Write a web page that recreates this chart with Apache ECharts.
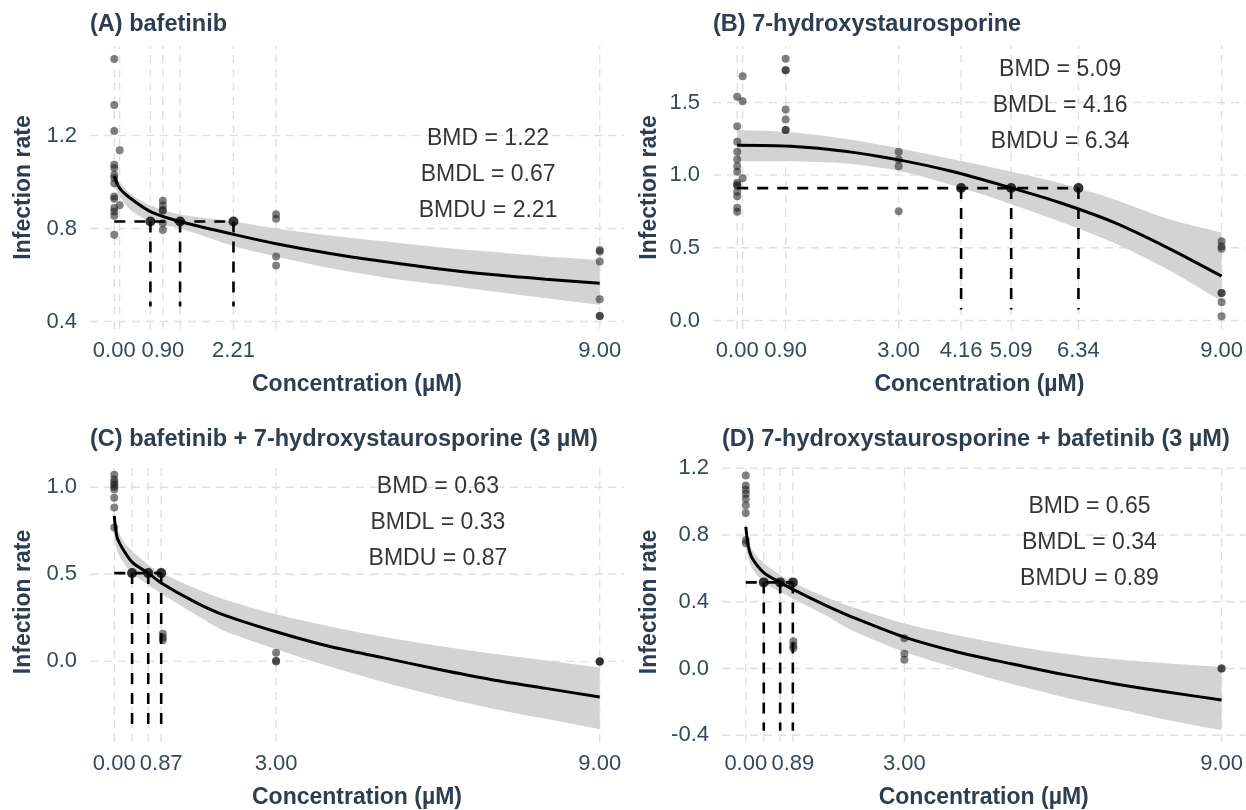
<!DOCTYPE html>
<html><head><meta charset="utf-8">
<script src="https://cdn.jsdelivr.net/npm/echarts@6/dist/echarts.min.js"></script>
<style>html,body{margin:0;padding:0;background:#fff}#c{width:1246px;height:810px}</style>
</head><body><div id="c"></div>
<script>
// ---------- DATA ----------
const panelTitles = ['(A) bafetinib', '(B) 7-hydroxystaurosporine',
  '(C) bafetinib + 7-hydroxystaurosporine (3 µM)', '(D) 7-hydroxystaurosporine + bafetinib (3 µM)'];

// Panel A
const aPtX = [0,0,0,0,0,0,0,0,0,0,0,0,0,0, 0.1,0.1, 0.9,0.9,0.9,0.9,0.9,0.9, 3,3,3,3, 9,9,9,9,9,9];
const aPtY = [1.529,1.331,1.220,1.074,1.060,1.031,1.017,0.995,0.938,0.928,0.888,0.873,0.855,0.773,
  1.137,0.900, 0.919,0.899,0.880,0.877,0.823,0.794, 0.862,0.842,0.680,0.641, 0.708,0.701,0.658,0.496,0.424,0.424];
const aCurveX = [0,0.1,0.3,0.67,1.22,2.21,3,4,5,6,7,8,9];
const aCurveY = [1.025,0.974,0.930,0.873,0.830,0.775,0.735,0.693,0.658,0.627,0.602,0.582,0.565];
const aRibHi  = [1.050,1.000,0.950,0.900,0.860,0.830,0.800,0.770,0.745,0.720,0.700,0.680,0.665];
const aRibLo  = [0.980,0.940,0.880,0.830,0.800,0.725,0.680,0.630,0.590,0.560,0.530,0.500,0.472];
const aBmd = [0.67, 1.22, 2.21];
const aBmr = 0.83;
const aSegBottom = 0.465;
const aXLabels = [0, 0.9, 2.21, 9];
const aXGrid = [0, 0.1, 0.67, 0.9, 1.22, 2.21, 3, 9];
const aYTicks = [0.4, 0.8, 1.2];

// Panel B
const bPtX = [0,0,0,0,0,0,0,0,0,0,0,0,0,0, 0.1,0.1,0.1, 0.9,0.9,0.9,0.9,0.9,0.9,0.9, 3,3,3,3, 9,9,9,9,9,9,9];
const bPtY = [1.540,1.337,1.230,1.161,1.108,1.062,1.023,0.948,0.931,0.931,0.886,0.855,0.776,0.749,
  1.681,1.509,0.978, 1.801,1.721,1.721,1.452,1.383,1.310,1.310, 1.161,1.108,1.062,0.752,
  0.546,0.511,0.493,0.190,0.190,0.126,0.030];
const bCurveX = [0,1,2,3,4,5,6,7,8,9];
const bCurveY = [1.205,1.198,1.165,1.105,1.025,0.922,0.810,0.675,0.500,0.305];
const bRibHi  = [1.310,1.295,1.250,1.185,1.110,1.032,0.945,0.835,0.700,0.605];
const bRibLo  = [1.095,1.095,1.080,1.030,0.930,0.812,0.680,0.535,0.350,0.133];
const bBmd = [4.16, 5.09, 6.34];
const bBmr = 0.911;
const bSegBottom = 0.076;
const bXLabels = [0, 0.9, 3, 4.16, 5.09, 6.34, 9];
const bXGrid = [0, 0.1, 0.9, 3, 4.16, 5.09, 6.34, 9];
const bYTicks = [0, 0.5, 1.0, 1.5];

// Panel C
const cPtX = [0,0,0,0,0,0,0,0,0, 0.9,0.9,0.9, 3,3,3, 9,9,9];
const cPtY = [1.072,1.044,1.028,1.015,1.002,0.987,0.940,0.883,0.769, 0.159,0.137,0.121, 0.049,0.003,0.0, 0,0,0];
const cCurveX = [0,0.05,0.15,0.33,0.63,0.87,1.5,2,3,4,5,6,7,8,9];
const cCurveY = [0.835,0.715,0.650,0.570,0.507,0.450,0.340,0.270,0.170,0.085,0.020,-0.045,-0.105,-0.155,-0.205];
const cRibHi  = [0.860,0.770,0.700,0.635,0.555,0.507,0.420,0.360,0.270,0.200,0.140,0.090,0.045,0.005,-0.035];
const cRibLo  = [0.720,0.640,0.575,0.507,0.440,0.390,0.270,0.180,0.070,-0.030,-0.120,-0.200,-0.270,-0.330,-0.390];
const cBmd = [0.33, 0.63, 0.87];
const cBmr = 0.507;
const cSegBottom = -0.395;
const cXLabels = [0, 0.87, 3, 9];
const cXGrid = [0, 0.33, 0.63, 0.87, 3, 9];
const cYTicks = [0, 0.5, 1.0];

// Panel D
const dPtX = [0,0,0,0,0,0,0,0,0, 0.9,0.9,0.9, 3,3,3, 9,9];
const dPtY = [1.156,1.096,1.071,1.047,1.017,0.978,0.932,0.770,0.751, 0.164,0.138,0.122, 0.182,0.089,0.053, 0,0];
const dCurveX = [0,0.05,0.12,0.34,0.65,0.89,1.5,2,3,4,5,6,7,8,9];
const dCurveY = [0.849,0.731,0.662,0.575,0.516,0.474,0.380,0.310,0.188,0.099,0.030,-0.035,-0.092,-0.142,-0.188];
const dRibHi  = [0.870,0.770,0.710,0.630,0.560,0.516,0.430,0.370,0.270,0.200,0.140,0.090,0.055,0.030,0.010];
const dRibLo  = [0.720,0.660,0.600,0.516,0.460,0.420,0.320,0.230,0.100,0.000,-0.090,-0.170,-0.240,-0.310,-0.370];
const dBmd = [0.34, 0.65, 0.89];
const dBmr = 0.516;
const dSegBottom = -0.372;
const dXLabels = [0, 0.89, 3, 9];
const dXGrid = [0, 0.34, 0.65, 0.89, 3, 9];
const dYTicks = [-0.4, 0, 0.4, 0.8, 1.2];

// ---------- LAYOUT / STYLE ----------
const FONT = 'Liberation Sans, Arial, Helvetica, sans-serif';
const X_MIN = -0.45, X_MAX = 9.45;
const panels = [
  {ptX:aPtX, ptY:aPtY, cx:aCurveX, cy:aCurveY, hi:aRibHi, lo:aRibLo, bmd:aBmd, bmr:aBmr, segB:aSegBottom, xl:aXLabels, xg:aXGrid, yt:aYTicks,
   grid:{left:90, top:46, width:534, height:283}, yr:[0.368,1.585], ann:[6.93,1.030], yGap:55},
  {ptX:bPtX, ptY:bPtY, cx:bCurveX, cy:bCurveY, hi:bRibHi, lo:bRibLo, bmd:bBmd, bmr:bBmr, segB:bSegBottom, xl:bXLabels, xg:bXGrid, yt:bYTicks,
   grid:{left:713, top:46, width:533, height:283}, yr:[-0.0585,1.8885], ann:[6.0,1.476], yGap:52},
  {ptX:cPtX, ptY:cPtY, cx:cCurveX, cy:cCurveY, hi:cRibHi, lo:cRibLo, bmd:cBmd, bmr:cBmr, segB:cSegBottom, xl:cXLabels, xg:cXGrid, yt:cYTicks,
   grid:{left:90, top:462, width:534, height:283}, yr:[-0.463,1.145], ann:[6.0,0.798], yGap:55},
  {ptX:dPtX, ptY:dPtY, cx:dCurveX, cy:dCurveY, hi:dRibHi, lo:dRibLo, bmd:dBmd, bmr:dBmr, segB:dSegBottom, xl:dXLabels, xg:dXGrid, yt:dYTicks,
   grid:{left:722, top:462, width:524, height:283}, yr:[-0.44,1.237], ann:[6.5,0.751], yGap:61}
];
const titleTops = [13, 13, 428, 428];
const labelColor = '#34495e';
const titleColor = '#2c3e50';

const option = {
  animation: false,
  backgroundColor: '#ffffff',
  textStyle: {fontFamily: FONT},
  title: panels.map((p, i) => ({
    text: panelTitles[i], left: p.grid.left, top: titleTops[i], padding: 0,
    textStyle: {fontSize: 23.5, fontWeight: 'bold', color: titleColor, fontFamily: FONT}
  })),
  grid: panels.map(p => p.grid),
  xAxis: panels.map((p, i) => ({
    type: 'value', gridIndex: i, min: X_MIN, max: X_MAX,
    axisLine: {show: false}, axisTick: {show: false}, splitLine: {show: false},
    axisLabel: {customValues: p.xl, formatter: v => Number(v).toFixed(2), color: labelColor, fontSize: 22, margin: 11, fontFamily: FONT},
    name: 'Concentration (µM)', nameLocation: 'middle', nameGap: 44,
    nameTextStyle: {fontSize: 23, fontWeight: 'bold', color: titleColor, fontFamily: FONT}
  })),
  yAxis: panels.map((p, i) => ({
    type: 'value', gridIndex: i, min: p.yr[0], max: p.yr[1],
    axisLine: {show: false}, axisTick: {show: false}, splitLine: {show: false},
    axisLabel: {customValues: p.yt, formatter: v => Number(v).toFixed(1), color: labelColor, fontSize: 22, margin: 13, fontFamily: FONT},
    name: 'Infection rate', nameLocation: 'middle', nameGap: p.yGap, nameRotate: 90,
    nameTextStyle: {fontSize: 23, fontWeight: 'bold', color: titleColor, fontFamily: FONT}
  })),
  series: []
};

panels.forEach((p, i) => {
  const ax = {xAxisIndex: i, yAxisIndex: i};
  const gridStyle = {color: '#e0e0e0', type: [8, 6], width: 1.4};
  // gridlines (drawn under everything)
  p.xg.forEach(v => option.series.push(Object.assign({
    type: 'line', data: [[v, p.yr[0]], [v, p.yr[1]]], symbol: 'none', lineStyle: gridStyle, silent: true, z: 0
  }, ax)));
  p.yt.forEach(v => option.series.push(Object.assign({
    type: 'line', data: [[X_MIN, v], [X_MAX, v]], symbol: 'none', lineStyle: gridStyle, silent: true, z: 0
  }, ax)));
  // confidence ribbon: upper edge then lower edge reversed; corner points doubled so the ends stay straight
  option.series.push(Object.assign({
    type: 'custom', data: [[p.cx[0], p.cy[0]]], silent: true, z: 1,
    renderItem: (params, api) => {
      const n = p.cx.length;
      const up = p.cx.map((x, k) => api.coord([x, p.hi[k]]));
      const dn = p.cx.map((x, k) => api.coord([x, p.lo[k]])).reverse();
      const pts = [up[0]].concat(up, [up[n - 1]], [dn[0]], dn, [dn[n - 1]]);
      let x0 = Infinity, y0 = Infinity, x1 = -Infinity, y1 = -Infinity;
      pts.forEach(q => { x0 = Math.min(x0, q[0]); y0 = Math.min(y0, q[1]); x1 = Math.max(x1, q[0]); y1 = Math.max(y1, q[1]); });
      return {type: 'polygon', shape: {points: pts, smooth: 0.3, smoothConstraint: [[x0, y0], [x1, y1]]},
        style: {fill: '#d3d3d3'}};
    }
  }, ax));
  // observed points
  option.series.push(Object.assign({
    type: 'scatter', data: p.ptX.map((x, k) => [x, p.ptY[k]]), symbolSize: 8,
    itemStyle: {color: 'rgba(30,30,30,0.7)'}, silent: true, z: 2
  }, ax));
  // fitted curve
  option.series.push(Object.assign({
    type: 'line', data: p.cx.map((x, k) => [x, p.cy[k]]), smooth: 0.3,
    symbol: 'none', lineStyle: {color: '#000', width: 3}, silent: true, z: 3
  }, ax));
  // dashed BMD segments
  const dash = {color: '#000', width: 2.6, type: [11, 9]};
  option.series.push(Object.assign({
    type: 'line', data: [[0, p.bmr], [p.bmd[2], p.bmr]], symbol: 'none', lineStyle: dash, silent: true, z: 4
  }, ax));
  p.bmd.forEach(v => {
    option.series.push(Object.assign({
      type: 'line', data: [[v, p.bmr], [v, p.segB]], symbol: 'none', lineStyle: dash, silent: true, z: 4
    }, ax));
  });
  // BMD markers
  option.series.push(Object.assign({
    type: 'scatter', data: p.bmd.map(v => [v, p.bmr]), symbolSize: 10,
    itemStyle: {color: '#000'}, silent: true, z: 5
  }, ax));
  // annotation
  const txt = 'BMD = ' + p.bmd[1].toFixed(2) + '\nBMDL = ' + p.bmd[0].toFixed(2) + '\nBMDU = ' + p.bmd[2].toFixed(2);
  option.series.push(Object.assign({
    type: 'scatter', data: [p.ann], symbolSize: 0, silent: true, z: 6,
    label: {show: true, position: 'inside', formatter: () => txt, color: '#000', fontSize: 23,
      lineHeight: 36, align: 'center', verticalAlign: 'middle', fontFamily: FONT}
  }, ax));
});

const chart = echarts.init(document.getElementById('c'), null, {renderer: 'canvas'});
chart.setOption(option);
</script>
</body></html>
